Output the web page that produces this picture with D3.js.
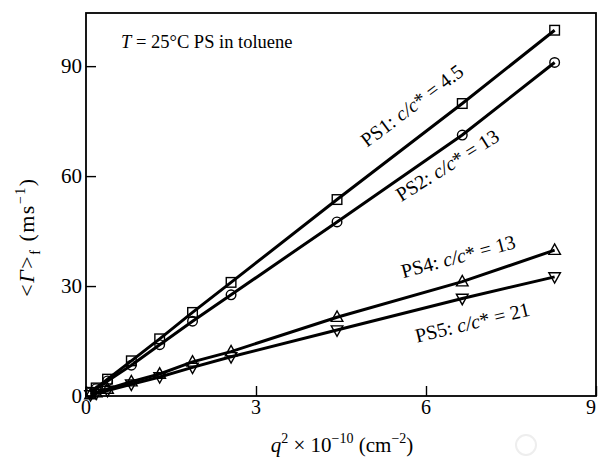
<!DOCTYPE html>
<html>
<head>
<meta charset="utf-8">
<script src="https://cdn.jsdelivr.net/npm/d3@7"></script>
<style>
  body { margin: 0; background: #fff; }
  svg text { font-family: "Liberation Serif", "DejaVu Serif", serif; fill: #000; }
</style>
</head>
<body>
<svg width="599" height="459"></svg>
<script>
// q^2 x 1e-10 (cm^-2), same for all series
var q2 = [0.08, 0.18, 0.38, 0.8, 1.3, 1.88, 2.56, 4.43, 6.64, 8.27];
var ps1 = [1.0, 2.2, 4.6, 9.6, 15.6, 22.8, 31.0, 53.6, 79.8, 99.8];
var ps2 = [0.9, 2.0, 4.1, 8.4, 14.0, 20.4, 27.6, 47.5, 71.2, 91.0];
var ps4 = [0.4, 0.9, 1.9, 3.9, 6.0, 9.3, 12.1, 21.5, 31.2, 39.8];
var ps5 = [0.3, 0.7, 1.5, 3.2, 5.2, 7.8, 10.7, 18.0, 26.6, 32.5];
var xTicks = [0, 3, 6, 9];
var yTicks = [0, 30, 60, 90];

var draw = function() {

var svg = d3.select("svg"),
    m = {left: 86, right: 596, top: 13, bottom: 396};

var x = d3.scaleLinear().domain([0, 9]).range([m.left, m.right]);
var y = d3.scaleLinear().domain([0, 104.5]).range([m.bottom, m.top]);

var series = [
  {vals: ps1, shape: "square"},
  {vals: ps2, shape: "circle"},
  {vals: ps4, shape: "up"},
  {vals: ps5, shape: "down"}
];

var line = d3.line()
    .x(function(d) { return x(d[0]); })
    .y(function(d) { return y(d[1]); });

series.forEach(function(s) {
  var pts = q2.map(function(v, i) { return [v, s.vals[i]]; });
  svg.append("path")
      .attr("d", line(pts))
      .attr("fill", "none")
      .attr("stroke", "#000")
      .attr("stroke-width", 3);

  var g = svg.append("g");
  pts.forEach(function(p) {
    var cx = x(p[0]), cy = y(p[1]);
    if (s.shape == "square") {
      g.append("rect").attr("x", cx - 4.8).attr("y", cy - 4.8)
        .attr("width", 9.6).attr("height", 9.6);
    } else if (s.shape == "circle") {
      g.append("circle").attr("cx", cx).attr("cy", cy).attr("r", 4.8);
    } else if (s.shape == "up") {
      g.append("path").attr("d", "M" + (cx - 5.8) + "," + (cy + 4.2) + "L" + cx + "," + (cy - 6.2) + "L" + (cx + 5.8) + "," + (cy + 4.2) + "Z");
    } else {
      g.append("path").attr("d", "M" + (cx - 5.8) + "," + (cy - 4.2) + "L" + cx + "," + (cy + 6.2) + "L" + (cx + 5.8) + "," + (cy - 4.2) + "Z");
    }
  });
  g.selectAll("*").attr("fill", "none").attr("stroke", "#000").attr("stroke-width", 1.4);
});

// axes with inward ticks
var xAxis = svg.append("g")
    .attr("transform", "translate(0," + m.bottom + ")")
    .call(d3.axisTop(x).tickValues(xTicks).tickSize(10).tickFormat(""));
var yAxis = svg.append("g")
    .attr("transform", "translate(" + m.left + ",0)")
    .call(d3.axisRight(y).tickValues(yTicks).tickSize(10).tickFormat(""));
[xAxis, yAxis].forEach(function(a) {
  a.select(".domain").remove();
  a.selectAll("line").attr("stroke", "#000").attr("stroke-width", 1.4);
});

svg.append("rect")
    .attr("x", m.left).attr("y", m.top)
    .attr("width", m.right - m.left).attr("height", m.bottom - m.top)
    .attr("fill", "none").attr("stroke", "#000").attr("stroke-width", 1.8);

svg.selectAll(".xlab")
  .data(xTicks)
  .enter().append("text")
    .attr("x", function(d, i) { return x(d) - (i == xTicks.length - 1 ? 5 : 0); })
    .attr("y", 414)
    .attr("text-anchor", "middle")
    .attr("font-size", 20)
    .text(function(d) { return d; });

svg.selectAll(".ylab")
  .data(yTicks)
  .enter().append("text")
    .attr("x", 82)
    .attr("y", function(d) { return y(d) + 7; })
    .attr("text-anchor", "end")
    .attr("font-size", 21)
    .text(function(d) { return d; });

// x title
var xt = svg.append("text")
    .attr("x", 342).attr("y", 452)
    .attr("text-anchor", "middle")
    .attr("font-size", 21);
xt.append("tspan").attr("font-style", "italic").text("q");
xt.append("tspan").attr("dy", -9).attr("font-size", 14).text("2");
xt.append("tspan").attr("dy", 9).text(" \u00d7 10");
xt.append("tspan").attr("dy", -9).attr("font-size", 14).text("\u221210");
xt.append("tspan").attr("dy", 9).text(" (cm");
xt.append("tspan").attr("dy", -9).attr("font-size", 14).text("\u22122");
xt.append("tspan").attr("dy", 9).text(")");

// y title
var yt = svg.append("text")
    .attr("transform", "translate(34,237) rotate(-90)")
    .attr("text-anchor", "middle")
    .attr("font-size", 22)
    .attr("letter-spacing", 1.5);
yt.append("tspan").text("<");
yt.append("tspan").attr("font-style", "italic").text("\u0393");
yt.append("tspan").text(">");
yt.append("tspan").attr("dy", 6).attr("font-size", 14).text("f");
yt.append("tspan").attr("dy", -6).text(" (ms");
yt.append("tspan").attr("dy", -9).attr("font-size", 14).text("\u22121");
yt.append("tspan").attr("dy", 9).text(")");

// annotation
var an = svg.append("text").attr("x", 121).attr("y", 48).attr("font-size", 18.5);
an.append("tspan").attr("font-style", "italic").text("T");
an.append("tspan").text(" = 25\u00b0C PS in toluene");

// series labels along lines
var labels = [
  {name: "PS1: ", val: "4.5", x: 416, y: 111, a: -37},
  {name: "PS2: ", val: "13", x: 451, y: 171, a: -32},
  {name: "PS4: ", val: "13", x: 460, y: 263, a: -15},
  {name: "PS5: ", val: "21", x: 474, y: 329, a: -13.5}
];
labels.forEach(function(l) {
  var t = svg.append("text")
      .attr("transform", "translate(" + l.x + "," + l.y + ") rotate(" + l.a + ")")
      .attr("text-anchor", "middle")
      .attr("font-size", 20);
  t.append("tspan").text(l.name);
  t.append("tspan").attr("font-style", "italic").text("c/c");
  t.append("tspan").text("* = " + l.val);
});

// faint scan watermark
svg.append("circle").attr("cx", 526).attr("cy", 445).attr("r", 10)
    .attr("fill", "none").attr("stroke", "#eee").attr("stroke-width", 2);
};

draw();
</script>
</body>
</html>
